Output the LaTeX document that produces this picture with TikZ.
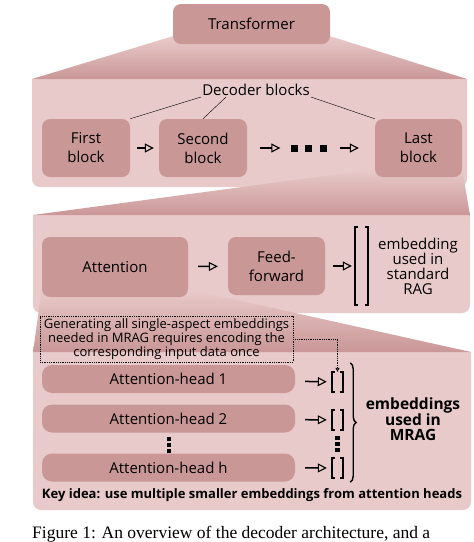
\documentclass[tikz,border=0pt]{standalone}
\usepackage{fontspec}
\setmainfont{Open Sans}
\newfontfamily\capfont{Liberation Serif}
\usetikzlibrary{arrows.meta,backgrounds,decorations.pathreplacing}
\definecolor{boxc}{RGB}{202,151,151}
\definecolor{panelc}{RGB}{233,202,202}
\tikzset{
  blk/.style={fill=boxc, rounded corners=8pt, align=center, inner sep=0pt,
    font=\fontsize{15}{19}\selectfont},
  head/.style={blk, rounded corners=10pt, minimum width=253pt, minimum height=28pt},
  arr/.style={-{Triangle[open,length=9pt,width=9pt,line width=1.1pt]}, line width=1.5pt},
  vecbox/.style={minimum width=11pt, minimum height=20pt, inner sep=0pt},
  grad/.style={top color=panelc, bottom color=boxc},
}
\newcommand\brackets[2]{%
  \draw[line width=#2] ([xshift=3pt]#1.north west) -- (#1.north west) -- (#1.south west) -- ++(3pt,0);
  \draw[line width=#2] ([xshift=-3pt]#1.north east) -- (#1.north east) -- (#1.south east) -- ++(-3pt,0);}
\newcommand\sq[1]{\rule{#1}{#1}}

\begin{document}
\begin{tikzpicture}[x=1pt,y=-1pt]
  \useasboundingbox (0,0) rectangle (474,542);
  \node[blk, minimum width=157pt, minimum height=40pt] (tr) at (251.5,24) {Transformer};
  \node[blk, minimum width=88pt, minimum height=58pt] (first) at (86,148) {First\\block};
  \node[blk, minimum width=88pt, minimum height=58pt] (second) at (203,148) {Second\\block};
  \node[inner sep=0pt] (dots) at (308.5,148) {\sq{7pt}\hspace{7.5pt}\sq{7pt}\hspace{7.5pt}\sq{7pt}};
  \node[blk, minimum width=87pt, minimum height=58pt] (last) at (418.5,148) {Last\\block};
  \node[inner sep=1pt, font=\fontsize{15}{19}\selectfont] (dec) at (256,90) {Decoder blocks};
  \draw (dec.south west) -- (first.north east);
  \draw ([xshift=25pt]dec.south west) -- (second.north);
  \draw (dec.south east) -- (last.north west);
  \draw[arr, shorten <=7pt, shorten >=5pt] (first) -- (second);
  \draw[arr, shorten <=13pt, shorten >=10pt] (second) -- (dots);
  \draw[arr, shorten <=13pt, shorten >=16pt] (dots) -- (last);

  \node[blk, minimum width=146pt, minimum height=60pt] (att) at (115,267) {Attention};
  \node[blk, minimum width=97pt, minimum height=58pt] (ff) at (276.5,266) {Feed-\\forward};
  \node[vecbox, minimum width=13pt, minimum height=78pt] (bigv) at (361.5,266) {};
  \brackets{bigv}{1.7pt}
  \node[align=center, inner sep=0pt, font=\fontsize{15}{15}\selectfont] (rag) at (418,266) {embedding\\used in\\standard\\RAG};
  \draw[arr, shorten <=10pt, shorten >=10pt] (att) -- (ff);
  \draw[arr, shorten <=8pt, shorten >=3pt] (ff) -- (bigv);

  \node[draw, densely dotted, line width=0.8pt, minimum width=253pt, minimum height=46pt, inner sep=0pt,
    align=center, font=\fontsize{13}{14}\selectfont] (note) at (166.5,339)
    {Generating all single-aspect embeddings\\needed in MRAG requires encoding the\\corresponding input data once};
  \node[head] (h1) at (168.5,379) {Attention-head 1};
  \node[head] (h2) at (168.5,418.5) {Attention-head 2};
  \node[inner sep=0pt, align=center, font=\fontsize{4}{6}\selectfont] (hdots) at (169,445) {\sq{4.5pt}\\\sq{4.5pt}\\\sq{4.5pt}};
  \node[head] (hh) at (168.5,467.5) {Attention-head h};
  \node[vecbox] (v1) at (337.5,382) {};
  \node[vecbox] (v2) at (337.5,420) {};
  \node[inner sep=0pt, align=center, font=\fontsize{4}{6}\selectfont] (vdots) at (337.5,444) {\sq{4.5pt}\\\sq{4.5pt}\\\sq{4.5pt}};
  \node[vecbox] (vh) at (337.5,468) {};
  \brackets{v1}{1.5pt}
  \brackets{v2}{1.5pt}
  \brackets{vh}{1.5pt}
  \foreach \a/\b in {h1/v1,h2/v2,hh/vh}
    \draw[arr, shorten <=10pt, shorten >=5pt] (\a) -- (\b);
  \draw[densely dotted, line width=0.8pt, -{Triangle[open,length=4pt,width=4pt]}] (note.east) -| (v1.north);
  \draw[decorate, decoration={brace, amplitude=6pt}, line width=1.4pt]
    ([xshift=7pt,yshift=9pt]v1.north east) -- ([xshift=7pt,yshift=-4pt]vh.south east);
  \node[align=center, inner sep=0pt, font=\bfseries\fontsize{15.5}{15}\selectfont] (mrag) at (413,419) {embeddings\\used in\\MRAG};
  \node[font=\bfseries\fontsize{13}{14}\selectfont] (key) at (252,495) {Key idea: use multiple smaller embeddings from attention heads};

  \node[anchor=base west, inner sep=0pt, font=\capfont\fontsize{17.5}{20}\selectfont] (cap) at (32,538)
    {Figure 1: An overview of the decoder architecture, and a};

  \begin{scope}[on background layer]
    \fill[panelc, rounded corners=8pt] (32,79) rectangle (467,187);
    \fill[panelc] (32,79) rectangle (467,110);
    \shade[grad] ([yshift=8pt]tr.south west) -- ([yshift=8pt]tr.south east) -- (467,79) -- (32,79) -- cycle;
    \fill[panelc, rounded corners=8pt] (33,215) rectangle (470,313);
    \fill[panelc] (33,215) rectangle (470,240);
    \shade[grad] ([yshift=8pt]last.south west) -- ([yshift=8pt]last.south east) -- (470,215) -- (33,215) -- cycle;
    \fill[panelc, rounded corners=8pt] (33,352) rectangle (471,510);
    \fill[panelc] (33,352) rectangle (471,380);
    \shade[grad] ([yshift=8pt]att.south west) -- ([yshift=8pt]att.south east) -- (471,352) -- (33,352) -- cycle;
  \end{scope}
\end{tikzpicture}
\end{document}
